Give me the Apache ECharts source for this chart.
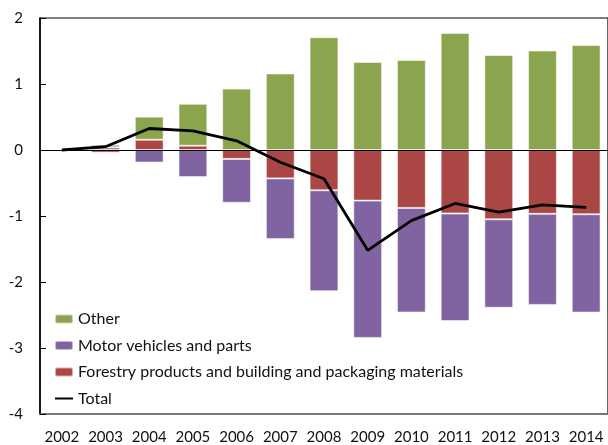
<!DOCTYPE html>
<html><head><meta charset="utf-8">
<script src="https://cdn.jsdelivr.net/npm/echarts@6/dist/echarts.min.js"></script>
<style>html,body{margin:0;padding:0;background:#fff}#c{width:608px;height:445px}</style>
</head><body><div id="c"></div>
<script>
const years = ['2002','2003','2004','2005','2006','2007','2008','2009','2010','2011','2012','2013','2014'];
const forestry = [0, -0.04, 0.155, 0.065, -0.135, -0.43, -0.61, -0.767, -0.877, -0.962, -1.05, -0.967, -0.973];
const motor = [0, 0.04, -0.19, -0.41, -0.665, -0.92, -1.53, -2.08, -1.585, -1.63, -1.34, -1.38, -1.49];
const other = [0, 0.04, 0.35, 0.635, 0.93, 1.16, 1.71, 1.333, 1.363, 1.774, 1.44, 1.508, 1.59];
const total = [0, 0.05, 0.326, 0.29, 0.14, -0.185, -0.436, -1.52, -1.07, -0.81, -0.943, -0.83, -0.87];
const yTicks = [-4, -3, -2, -1, 0, 1, 2];

const chart = echarts.init(document.getElementById('c'), null, {renderer: 'canvas'});
const font = 'Lato';
const barBase = {type: 'bar', stack: 'a', barWidth: '66%', itemStyle: {borderColor: 'rgba(255,255,255,0.55)', borderWidth: 1}};
chart.setOption({
  animation: false,
  grid: {left: 40, top: 18, width: 576, height: 398.7, show: true, borderColor: '#000', borderWidth: 1.2, backgroundColor: 'transparent'},
  legend: {
    orient: 'vertical', left: 54, top: 311, padding: 0, itemWidth: 18, itemHeight: 9, itemGap: 10.5,
    textStyle: {fontFamily: font, fontSize: 16, color: '#111', lineHeight: 16},
    data: [
      {name: 'Other'},
      {name: 'Motor vehicles and parts'},
      {name: 'Forestry products and building and packaging materials'},
      {name: 'Total', itemStyle: {opacity: 0}}
    ]
  },
  xAxis: {
    type: 'category', data: years,
    axisLine: {onZero: false, lineStyle: {color: '#777', width: 1.5}},
    axisTick: {show: false},
    axisLabel: {interval: 0, fontFamily: font, fontSize: 15, color: '#111', margin: 16}
  },
  yAxis: {
    type: 'value', min: -4, max: 2, interval: 1,
    axisLine: {show: true, lineStyle: {color: '#000', width: 1.5}},
    axisTick: {show: true, inside: true, length: 6, lineStyle: {color: '#000', width: 1}},
    splitLine: {show: false},
    axisLabel: {fontFamily: font, fontSize: 15, color: '#111', margin: 17,
      formatter: v => yTicks.includes(v) ? String(v) : ''}
  },
  series: [
    Object.assign({}, barBase, {name: 'Forestry products and building and packaging materials', data: forestry, itemStyle: Object.assign({}, barBase.itemStyle, {color: '#AA4643'})}),
    Object.assign({}, barBase, {name: 'Motor vehicles and parts', data: motor, itemStyle: Object.assign({}, barBase.itemStyle, {color: '#8064A2'})}),
    Object.assign({}, barBase, {name: 'Other', data: other, itemStyle: Object.assign({}, barBase.itemStyle, {color: '#8BA54F'})}),
    {name: 'Total', type: 'line', data: total, symbol: 'none', z: 5,
      lineStyle: {color: '#000', width: 2.8}, itemStyle: {color: '#000'},
      markLine: {silent: true, symbol: 'none', label: {show: false},
        lineStyle: {color: '#000', width: 1, type: 'solid'}, data: [{yAxis: 0}]}}
  ]
});
</script></body></html>
